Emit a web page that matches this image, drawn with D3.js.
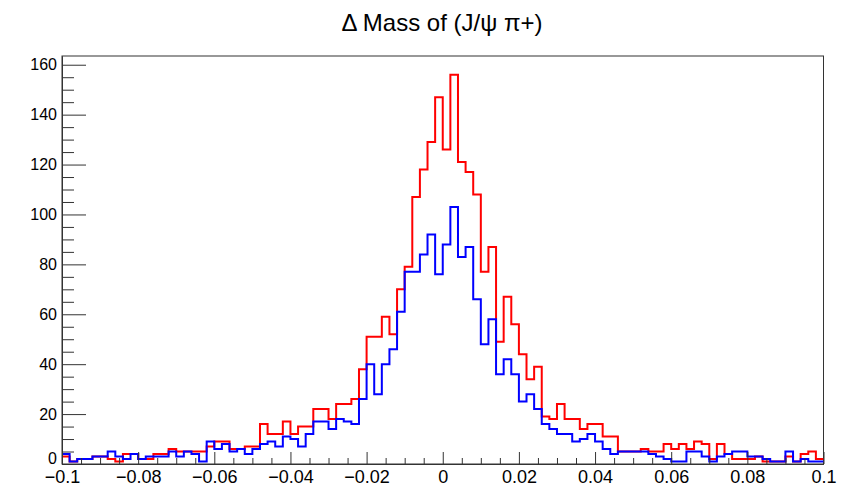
<!DOCTYPE html>
<html>
<head>
<meta charset="utf-8">
<script src="https://cdn.jsdelivr.net/npm/d3@7"></script>
<style>
  body { margin: 0; background: #fff; }
  text { font-family: "Liberation Sans", Arial, Helvetica, sans-serif; fill: #000; }
</style>
</head>
<body>
<div id="chart"></div>
<script>
// histogram binning
var xMin = -0.1;
var xMax = 0.1;
var nBins = 100;

// bin contents (100 bins each)
var redCounts = [
    3, 1, 2, 2, 3, 3, 2, 1, 4, 4, 2, 2, 4, 4, 6, 5, 5, 5, 5, 7, 9, 9, 6, 6, 7, 7,
    16, 12, 12, 17, 12, 15, 15, 22, 22, 18, 24, 24, 26, 38, 51, 51, 59, 52, 70, 79,
    107, 118, 129, 147, 126, 156, 121, 117, 108,
    77, 87, 49, 67, 56, 44, 34, 39, 19, 18, 24, 18, 18, 14, 16, 16, 11, 11, 5, 5,
    5, 6, 5, 5, 8, 6, 8, 6, 9, 8, 2, 8, 4, 2, 2, 2, 3, 1, 1, 1, 3, 1, 4, 5, 2
];
var blueCounts = [
    4, 1, 2, 2, 3, 3, 5, 3, 2, 4, 2, 3, 3, 3, 5, 3, 5, 4, 1, 9, 6, 8, 5, 6, 4, 6,
    8, 9, 7, 11, 10, 7, 12, 17, 17, 14, 18, 17, 16, 26, 40, 28, 40, 46, 61, 77,
    77, 84, 92, 76, 88, 103, 83, 87, 66,
    48, 58, 36, 42, 36, 25, 28, 22, 16, 14, 12, 12, 9, 10, 12, 9, 6, 4, 5, 5,
    5, 5, 4, 3, 2, 1, 1, 5, 5, 3, 1, 3, 4, 5, 5, 3, 3, 2, 1, 1, 5, 1, 2, 1, 1
];

// axis ticks
var yMax = 163.5;
var yMajor = [0, 20, 40, 60, 80, 100, 120, 140, 160];
var xMajor = [-0.1, -0.08, -0.06, -0.04, -0.02, 0, 0.02, 0.04, 0.06, 0.08, 0.1];
var xLabels = ["\u22120.1", "\u22120.08", "\u22120.06", "\u22120.04", "\u22120.02", "0", "0.02", "0.04", "0.06", "0.08", "0.1"];
var title = "\u0394 Mass of (J/\u03c8 \u03c0+)";

// svg container
var svgWidth = 859;
var svgHeight = 488;

// frame edges
var frame = { left: 62, right: 823.5, top: 56, bottom: 464 };

var svg = d3.select("#chart").append("svg")
    .attr("width", svgWidth)
    .attr("height", svgHeight);

// scales
var xScale = d3.scaleLinear().domain([xMin, xMax]).range([frame.left, frame.right]);
var yScale = d3.scaleLinear().domain([0, yMax]).range([frame.bottom, frame.top]);

var binWidth = (xMax - xMin) / nBins;
var yMinor = d3.range(0, 161, 5).filter(d => d % 20 !== 0);
var xMinor = d3.range(-20, 21).map(d => d * 0.005).filter(d => Math.abs(Math.round(d * 50) - d * 50) > 1e-6);

// frame box
svg.append("rect")
    .attr("x", frame.left)
    .attr("y", frame.top)
    .attr("width", frame.right - frame.left)
    .attr("height", frame.bottom - frame.top)
    .attr("fill", "none")
    .attr("stroke", "#333")
    .attr("stroke-width", 1);

// step outline of a histogram
function stepPoints(counts) {
    var pts = [];
    counts.forEach(function(c, i) {
        var lo = xMin + i * binWidth;
        pts.push([lo, c]);
        pts.push([lo + binWidth, c]);
    });
    return pts;
}

var line = d3.line()
    .x(d => xScale(d[0]))
    .y(d => yScale(d[1]));

svg.append("path")
    .attr("d", line(stepPoints(redCounts)))
    .attr("fill", "none")
    .attr("stroke", "#ff0000")
    .attr("stroke-width", 2);

svg.append("path")
    .attr("d", line(stepPoints(blueCounts)))
    .attr("fill", "none")
    .attr("stroke", "#0000ff")
    .attr("stroke-width", 2);

// y axis (ticks point inward)
var yAxis = d3.axisLeft(yScale)
    .tickValues(yMajor)
    .tickSizeInner(-24)
    .tickSizeOuter(0)
    .tickPadding(5)
    .tickFormat(d3.format("d"));

var yg = svg.append("g")
    .attr("transform", `translate(${frame.left}, 0)`)
    .call(yAxis);

svg.append("g")
    .attr("transform", `translate(${frame.left}, 0)`)
    .call(d3.axisLeft(yScale).tickValues(yMinor).tickSizeInner(-12).tickSizeOuter(0).tickFormat(""));

// x axis
var xAxis = d3.axisBottom(xScale)
    .tickValues(xMajor)
    .tickSizeInner(-12)
    .tickSizeOuter(0)
    .tickPadding(6)
    .tickFormat((d, i) => xLabels[i]);

var xg = svg.append("g")
    .attr("transform", `translate(0, ${frame.bottom})`)
    .call(xAxis);

svg.append("g")
    .attr("transform", `translate(0, ${frame.bottom})`)
    .call(d3.axisBottom(xScale).tickValues(xMinor).tickSizeInner(-6).tickSizeOuter(0).tickFormat(""));

svg.selectAll(".domain").attr("stroke", "#333");
svg.selectAll(".tick line").attr("stroke", "#333");

yg.selectAll("text")
    .attr("font-size", "16px")
    .attr("font-family", "Liberation Sans, Arial, sans-serif")
    .attr("fill", "#000");

// lift the zero label off the x labels, like ROOT does
yg.selectAll("text").filter(d => d === 0).attr("dy", "-0.05em");

xg.selectAll("text")
    .attr("font-size", "18px")
    .attr("font-family", "Liberation Sans, Arial, sans-serif")
    .attr("fill", "#000");

// title
svg.append("text")
    .attr("x", 442)
    .attr("y", 31)
    .attr("text-anchor", "middle")
    .attr("font-size", "24px")
    .text(title);
</script>
</body>
</html>
